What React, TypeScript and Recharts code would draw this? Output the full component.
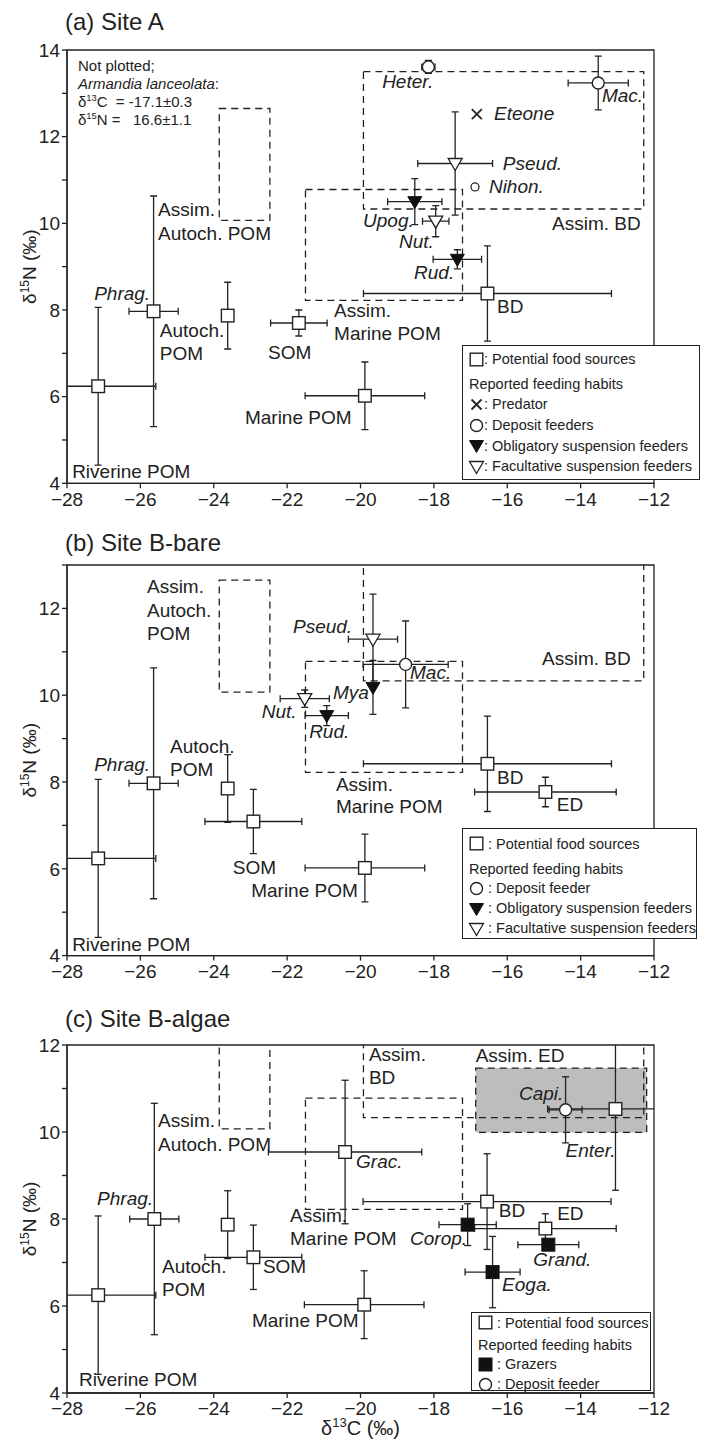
import React from "react";
import { ScatterChart, Scatter, XAxis, YAxis, ErrorBar, ReferenceArea, Legend } from "recharts";

const FONT = '"Liberation Sans", Arial, Helvetica, sans-serif';
const INK = "#222";
const PLOT_LEFT = 67;
const PLOT_W = 587;

type Pt = { name: string; x: number; y: number; ex?: number; ey?: number };
type Note = { text: string; x: number; y: number };
type Box = { x1: number; x2: number; y1: number; y2: number };

// axes
const X_TICKS = [-28, -26, -24, -22, -20, -18, -16, -14, -12];
const Y_TICKS_A = [4, 5, 6, 7, 8, 9, 10, 11, 12, 13, 14];
const Y_TICKS_B = [4, 5, 6, 7, 8, 9, 10, 11, 12, 13];
const Y_TICKS_C = [4, 5, 6, 7, 8, 9, 10, 11, 12];

// assimilated-source regions (same for all sites)
const assimBoxes: Box[] = [
  { x1: -23.85, x2: -22.47, y1: 10.07, y2: 12.65 }, // Assim. Autoch. POM
  { x1: -21.5, x2: -17.22, y1: 8.22, y2: 10.78 }, // Assim. Marine POM
  { x1: -19.92, x2: -12.28, y1: 10.33, y2: 13.5 }, // Assim. BD
];
const assimED: Box = { x1: -16.86, x2: -12.2, y1: 9.99, y2: 11.47 };

// (a) Site A
const sourcesA: Pt[] = [
  { name: "Riverine POM", x: -27.15, y: 6.24, ex: 1.57, ey: 1.82 },
  { name: "Phrag.", x: -25.64, y: 7.97, ex: 0.67, ey: 2.66 },
  { name: "Autoch. POM", x: -23.62, y: 7.87, ey: 0.77 },
  { name: "SOM", x: -21.68, y: 7.7, ex: 0.77, ey: 0.3 },
  { name: "Marine POM", x: -19.88, y: 6.02, ex: 1.63, ey: 0.78 },
  { name: "BD", x: -16.54, y: 8.38, ex: 3.38, ey: 1.1 },
];
const depositA: Pt[] = [
  { name: "Heter.", x: -18.15, y: 13.61, ex: 0.18, ey: 0.15 },
  { name: "Mac.", x: -13.52, y: 13.24, ex: 0.82, ey: 0.62 },
];
const depositSmallA: Pt[] = [{ name: "Nihon.", x: -16.88, y: 10.84 }];
const predatorA: Pt[] = [{ name: "Eteone", x: -16.83, y: 12.52 }];
const obligatoryA: Pt[] = [
  { name: "Upog.", x: -18.52, y: 10.5, ex: 0.74, ey: 0.53 },
  { name: "Rud.", x: -17.36, y: 9.17, ex: 0.66, ey: 0.22 },
];
const facultativeA: Pt[] = [
  { name: "Pseud.", x: -17.42, y: 11.38, ex: 1.02, ey: 1.19 },
  { name: "Nut.", x: -17.95, y: 10.05, ex: 0.36, ey: 0.36 },
];

// (b) Site B-bare
const sourcesB: Pt[] = [
  { name: "Riverine POM", x: -27.15, y: 6.24, ex: 1.57, ey: 1.82 },
  { name: "Phrag.", x: -25.64, y: 7.97, ex: 0.67, ey: 2.66 },
  { name: "Autoch. POM", x: -23.62, y: 7.85, ey: 0.78 },
  { name: "SOM", x: -22.92, y: 7.09, ex: 1.32, ey: 0.74 },
  { name: "Marine POM", x: -19.88, y: 6.02, ex: 1.63, ey: 0.78 },
  { name: "BD", x: -16.54, y: 8.42, ex: 3.38, ey: 1.1 },
  { name: "ED", x: -14.96, y: 7.77, ex: 1.93, ey: 0.34 },
];
const depositB: Pt[] = [{ name: "Mac.", x: -18.77, y: 10.71, ex: 1.16, ey: 1.0 }];
const obligatoryB: Pt[] = [
  { name: "Mya", x: -19.66, y: 10.18, ey: 0.62 },
  { name: "Rud.", x: -20.92, y: 9.53, ex: 0.59, ey: 0.23 },
];
const facultativeB: Pt[] = [
  { name: "Pseud.", x: -19.66, y: 11.29, ex: 0.67, ey: 1.04 },
  { name: "Nut.", x: -21.52, y: 9.92, ex: 0.67, ey: 0.2 },
];

// (c) Site B-algae
const sourcesC: Pt[] = [
  { name: "Riverine POM", x: -27.15, y: 6.25, ex: 1.57, ey: 1.82 },
  { name: "Phrag.", x: -25.62, y: 8.0, ex: 0.67, ey: 2.66 },
  { name: "Autoch. POM", x: -23.62, y: 7.87, ey: 0.78 },
  { name: "SOM", x: -22.92, y: 7.12, ex: 1.32, ey: 0.74 },
  { name: "Marine POM", x: -19.9, y: 6.03, ex: 1.63, ey: 0.78 },
  { name: "Grac.", x: -20.42, y: 9.54, ex: 2.09, ey: 1.65 },
  { name: "BD", x: -16.55, y: 8.4, ex: 3.38, ey: 1.1 },
  { name: "ED", x: -14.96, y: 7.78, ex: 1.93, ey: 0.34 },
  { name: "Enter.", x: -13.05, y: 10.53, ex: 1.85, ey: 1.87 },
];
const grazersC: Pt[] = [
  { name: "Corop.", x: -17.08, y: 7.87, ex: 0.78, ey: 0.48 },
  { name: "Grand.", x: -14.88, y: 7.41, ex: 0.83 },
  { name: "Eoga.", x: -16.4, y: 6.78, ex: 0.75, ey: 0.82 },
];
const depositC: Pt[] = [{ name: "Capi.", x: -14.41, y: 10.51, ex: 0.45, ey: 0.76 }];

// text anchors (left end of baseline, in data units); *..* italic, ^..^ superscript
const notesA: Note[] = [
  { text: "Not plotted;", x: -27.7, y: 13.52 },
  { text: "*Armandia lanceolata*:", x: -27.7, y: 13.1 },
  { text: "δ^13^C  = -17.1±0.3", x: -27.7, y: 12.68 },
  { text: "δ^15^N =   16.6±1.1", x: -27.7, y: 12.26 },
];
const labelsA: Note[] = [
  { text: "Assim.", x: -25.52, y: 10.17 },
  { text: "Autoch. POM", x: -25.52, y: 9.61 },
  { text: "*Phrag.*", x: -27.26, y: 8.23 },
  { text: "Autoch.", x: -25.47, y: 7.38 },
  { text: "POM", x: -25.47, y: 6.85 },
  { text: "SOM", x: -22.52, y: 6.87 },
  { text: "Assim.", x: -20.72, y: 7.84 },
  { text: "Marine POM", x: -20.72, y: 7.31 },
  { text: "Marine POM", x: -23.15, y: 5.37 },
  { text: "Riverine POM", x: -27.86, y: 4.12 },
  { text: "BD", x: -16.28, y: 7.93 },
  { text: "*Heter.*", x: -19.41, y: 13.12 },
  { text: "*Mac.*", x: -13.42, y: 12.8 },
  { text: "*Eteone*", x: -16.36, y: 12.38 },
  { text: "*Pseud.*", x: -16.12, y: 11.23 },
  { text: "*Nihon.*", x: -16.5, y: 10.7 },
  { text: "*Upog.*", x: -19.93, y: 9.92 },
  { text: "*Nut.*", x: -18.95, y: 9.43 },
  { text: "*Rud.*", x: -18.54, y: 8.72 },
  { text: "Assim. BD", x: -14.78, y: 9.85 },
];
const labelsB: Note[] = [
  { text: "Assim.", x: -25.82, y: 12.35 },
  { text: "Autoch.", x: -25.82, y: 11.8 },
  { text: "POM", x: -25.82, y: 11.27 },
  { text: "*Pseud.*", x: -21.84, y: 11.43 },
  { text: "*Nut.*", x: -22.69, y: 9.47 },
  { text: "*Mya*", x: -20.75, y: 9.91 },
  { text: "*Rud.*", x: -21.4, y: 9.01 },
  { text: "*Mac.*", x: -18.65, y: 10.37 },
  { text: "Assim. BD", x: -15.05, y: 10.7 },
  { text: "Autoch.", x: -25.19, y: 8.67 },
  { text: "POM", x: -25.19, y: 8.14 },
  { text: "*Phrag.*", x: -27.26, y: 8.25 },
  { text: "SOM", x: -23.48, y: 5.88 },
  { text: "Marine POM", x: -22.98, y: 5.35 },
  { text: "Assim.", x: -20.67, y: 7.79 },
  { text: "Marine POM", x: -20.67, y: 7.29 },
  { text: "BD", x: -16.28, y: 7.95 },
  { text: "ED", x: -14.65, y: 7.33 },
  { text: "Riverine POM", x: -27.86, y: 4.11 },
];
const labelsC: Note[] = [
  { text: "Assim.", x: -25.52, y: 10.12 },
  { text: "Autoch. POM", x: -25.52, y: 9.57 },
  { text: "*Phrag.*", x: -27.18, y: 8.33 },
  { text: "Autoch.", x: -25.41, y: 6.77 },
  { text: "POM", x: -25.41, y: 6.24 },
  { text: "SOM", x: -22.66, y: 6.76 },
  { text: "Marine POM", x: -22.96, y: 5.52 },
  { text: "Assim.", x: -21.92, y: 7.94 },
  { text: "Marine POM", x: -21.92, y: 7.41 },
  { text: "Riverine POM", x: -27.67, y: 4.15 },
  { text: "Assim.", x: -19.77, y: 11.64 },
  { text: "BD", x: -19.77, y: 11.11 },
  { text: "Assim. ED", x: -16.86, y: 11.62 },
  { text: "*Capi.*", x: -15.68, y: 10.73 },
  { text: "*Enter.*", x: -14.41, y: 9.43 },
  { text: "*Grac.*", x: -20.12, y: 9.17 },
  { text: "BD", x: -16.23, y: 8.05 },
  { text: "ED", x: -14.64, y: 7.97 },
  { text: "*Corop.*", x: -18.65, y: 7.41 },
  { text: "*Grand.*", x: -15.29, y: 6.91 },
  { text: "*Eoga.*", x: -16.14, y: 6.34 },
];

// legend rows
type MarkKind = "square" | "filledSquare" | "circle" | "smallCircle" | "triFilled" | "triOpen" | "cross";
type Row = { sym?: MarkKind; text: string };
const legendA: Row[] = [
  { sym: "square", text: ": Potential food sources" },
  { text: "Reported feeding habits" },
  { sym: "cross", text: ": Predator" },
  { sym: "circle", text: ": Deposit feeders" },
  { sym: "triFilled", text: ": Obligatory suspension feeders" },
  { sym: "triOpen", text: ": Facultative suspension feeders" },
];
const legendB: Row[] = [
  { sym: "square", text: " : Potential food sources" },
  { text: "Reported feeding habits" },
  { sym: "circle", text: " : Deposit feeder" },
  { sym: "triFilled", text: " : Obligatory suspension feeders" },
  { sym: "triOpen", text: " : Facultative suspension feeders" },
];
const legendC: Row[] = [
  { sym: "square", text: " : Potential food sources" },
  { text: "Reported feeding habits" },
  { sym: "filledSquare", text: " : Grazers" },
  { sym: "circle", text: " : Deposit feeder" },
];

const MARK: Record<MarkKind, (p: any) => React.ReactElement> = {
  square: (p) => (
    <rect x={p.cx - 6.3} y={p.cy - 6.3} width={12.6} height={12.6} fill="#fff" stroke={INK} strokeWidth={1.4} />
  ),
  filledSquare: (p) => (
    <rect x={p.cx - 6.5} y={p.cy - 6.5} width={13} height={13} fill="#111" stroke="#111" strokeWidth={1} />
  ),
  circle: (p) => <circle cx={p.cx} cy={p.cy} r={6} fill="#fff" stroke={INK} strokeWidth={1.4} />,
  smallCircle: (p) => <circle cx={p.cx} cy={p.cy} r={4} fill="#fff" stroke={INK} strokeWidth={1.3} />,
  triFilled: (p) => (
    <polygon
      points={`${p.cx - 7},${p.cy - 5} ${p.cx + 7},${p.cy - 5} ${p.cx},${p.cy + 7}`}
      fill="#111"
      stroke="#111"
      strokeWidth={1}
    />
  ),
  triOpen: (p) => (
    <polygon
      points={`${p.cx - 7},${p.cy - 5} ${p.cx + 7},${p.cy - 5} ${p.cx},${p.cy + 7}`}
      fill="#fff"
      stroke={INK}
      strokeWidth={1.3}
    />
  ),
  cross: (p) => (
    <g stroke={INK} strokeWidth={1.8}>
      <line x1={p.cx - 5} y1={p.cy - 5} x2={p.cx + 5} y2={p.cy + 5} />
      <line x1={p.cx - 5} y1={p.cy + 5} x2={p.cx + 5} y2={p.cy - 5} />
    </g>
  ),
};

function RichText({ x, y, text, size }: { x: number; y: number; text: string; size: number }) {
  const segs: { t: string; it: boolean; sup: boolean }[] = [];
  let it = false;
  let sup = false;
  let buf = "";
  for (const ch of text) {
    if (ch === "*" || ch === "^") {
      if (buf) segs.push({ t: buf, it, sup });
      buf = "";
      if (ch === "*") it = !it;
      else sup = !sup;
    } else buf += ch;
  }
  if (buf) segs.push({ t: buf, it, sup });
  let prev = false;
  const shift = size * 0.4;
  return (
    <text x={x} y={y} fontSize={size} fontFamily={FONT} fill={INK} style={{ whiteSpace: "pre" }}>
      {segs.map((s, i) => {
        const dy = s.sup && !prev ? -shift : !s.sup && prev ? shift : 0;
        prev = s.sup;
        return (
          <tspan key={i} dy={dy || undefined} fontStyle={s.it ? "italic" : "normal"} fontSize={s.sup ? size * 0.62 : size}>
            {s.t}
          </tspan>
        );
      })}
    </text>
  );
}

const labelShape = (p: any) => <RichText x={p.cx} y={p.cy} text={p.payload.text} size={19} />;
const noteShape = (p: any) => <RichText x={p.cx} y={p.cy} text={p.payload.text} size={15} />;

const fmtX = (v: number) => (v < 0 ? `\u2212${-v}` : `${v}`);
const fmtY = (v: number) => (v % 2 === 0 ? `${v}` : "");

function YTitle(props: any) {
  const vb = props.viewBox;
  const cx = vb.x + 14;
  const cy = vb.y + vb.height / 2;
  return (
    <text x={cx} y={cy} transform={`rotate(-90 ${cx} ${cy})`} textAnchor="middle" fontSize={19} fontFamily={FONT} fill={INK}>
      δ
      <tspan dy={-7} fontSize={12}>
        15
      </tspan>
      <tspan dy={7}>N (‰)</tspan>
    </text>
  );
}
function XTitle(props: any) {
  const vb = props.viewBox;
  return (
    <text x={vb.x + vb.width / 2} y={vb.y + 42} textAnchor="middle" fontSize={20} fontFamily={FONT} fill={INK}>
      δ
      <tspan dy={-8} fontSize={13}>
        13
      </tspan>
      <tspan dy={8}>C (‰)</tspan>
    </text>
  );
}

function LegendBox({ rows, w, h, padTop, rowH, gap }: { rows: Row[]; w: number; h: number; padTop: number; rowH: number; gap: number }) {
  return (
    <div
      style={{
        width: w,
        height: h,
        boxSizing: "border-box",
        border: `1.4px solid ${INK}`,
        background: "#fff",
        paddingTop: padTop,
        paddingLeft: 6,
        fontFamily: FONT,
        fontSize: 14.5,
        color: INK,
      }}
    >
      {rows.map((r, i) => (
        <div
          key={i}
          style={{ height: rowH, display: "flex", alignItems: "center", whiteSpace: "pre", marginBottom: i === 0 ? gap : 0 }}
        >
          {r.sym && (
            <svg width={15} height={15} style={{ overflow: "visible" }}>
              {MARK[r.sym]({ cx: 7.5, cy: 7.5 })}
            </svg>
          )}
          <span>{r.text}</span>
        </div>
      ))}
    </div>
  );
}

type Series = { data: Pt[]; mark: MarkKind };
type PanelProps = {
  id: string;
  top: number;
  height: number;
  marginTop: number;
  xAxisHeight: number;
  yMax: number;
  unit: number;
  yTicks: number[];
  title: string;
  titleBase: number;
  series: Series[];
  shaded?: Box;
  labels: Note[];
  notes?: Note[];
  legend: Row[];
  legendPos: { left: number; top: number; w: number; h: number; padTop: number; rowH: number; gap: number };
  xTitle?: boolean;
};

function Panel(p: PanelProps) {
  const plotH = (p.yMax - 4) * p.unit;
  const bottom = p.height - p.marginTop - plotH - p.xAxisHeight;
  const lp = p.legendPos;
  const clipId = `${p.id}-clip`;
  return (
    <div id={p.id} style={{ position: "absolute", left: 0, top: p.top, width: 711, height: p.height }}>
      {/* keep error bars inside the plot frame, as in the original figure */}
      <svg width={0} height={0} style={{ position: "absolute" }}>
        <defs>
          <clipPath id={clipId}>
            <rect x={PLOT_LEFT} y={p.marginTop} width={PLOT_W} height={plotH} />
          </clipPath>
        </defs>
      </svg>
      <style>{`#${p.id} .recharts-scatter, #${p.id} .recharts-errorBars { clip-path: url(#${clipId}); }`}</style>
      <div
        style={{
          position: "absolute",
          left: 65,
          top: p.titleBase - 20,
          fontSize: 24,
          lineHeight: "24px",
          fontFamily: FONT,
          color: INK,
          whiteSpace: "nowrap",
        }}
      >
        {p.title}
      </div>
      <ScatterChart width={711} height={p.height} margin={{ top: p.marginTop, right: 711 - PLOT_LEFT - PLOT_W, bottom, left: 22 }}>
        <XAxis
          type="number"
          dataKey="x"
          domain={[-28, -12]}
          ticks={X_TICKS}
          interval={0}
          allowDataOverflow
          tickFormatter={fmtX}
          tick={{ fontSize: 19, fill: INK, fontFamily: FONT }}
          tickSize={5}
          tickMargin={4}
          stroke={INK}
          strokeWidth={1.3}
          height={p.xAxisHeight}
          label={p.xTitle ? (lp2: any) => <XTitle {...lp2} /> : undefined}
        />
        <YAxis
          type="number"
          dataKey="y"
          domain={[4, p.yMax]}
          ticks={p.yTicks}
          interval={0}
          allowDataOverflow
          tickFormatter={fmtY}
          tick={{ fontSize: 19, fill: INK, fontFamily: FONT }}
          tickSize={5}
          tickMargin={2}
          stroke={INK}
          strokeWidth={1.3}
          width={PLOT_LEFT - 22}
          label={(lp2: any) => <YTitle {...lp2} />}
        />
        {p.shaded && (
          <ReferenceArea
            x1={p.shaded.x1}
            x2={p.shaded.x2}
            y1={p.shaded.y1}
            y2={p.shaded.y2}
            ifOverflow="hidden"
            fill="#bdbdbd"
            fillOpacity={1}
            stroke={INK}
            strokeWidth={1.3}
            strokeDasharray="7 5"
          />
        )}
        {assimBoxes.map((b, i) => (
          <ReferenceArea
            key={i}
            x1={b.x1}
            x2={b.x2}
            y1={b.y1}
            y2={b.y2}
            ifOverflow="hidden"
            fill="none"
            stroke={INK}
            strokeWidth={1.3}
            strokeDasharray="7 5"
          />
        ))}
        <ReferenceArea x1={-28} x2={-12} y1={4} y2={p.yMax} fill="none" stroke={INK} strokeWidth={1.3} />
        {p.series.map((s, i) => (
          <Scatter key={i} data={s.data} shape={MARK[s.mark]} isAnimationActive={false}>
            <ErrorBar dataKey="ex" direction="x" width={3.5} stroke={INK} strokeWidth={1.3} isAnimationActive={false} />
            <ErrorBar dataKey="ey" direction="y" width={3.5} stroke={INK} strokeWidth={1.3} isAnimationActive={false} />
          </Scatter>
        ))}
        <Scatter data={p.labels} shape={labelShape} isAnimationActive={false} />
        {p.notes && <Scatter data={p.notes} shape={noteShape} isAnimationActive={false} />}
        <Legend
          layout="vertical"
          align="center"
          verticalAlign="middle"
          wrapperStyle={{ left: lp.left, top: lp.top, width: lp.w, height: lp.h }}
          content={() => <LegendBox rows={p.legend} w={lp.w} h={lp.h} padTop={lp.padTop} rowH={lp.rowH} gap={lp.gap} />}
        />
      </ScatterChart>
    </div>
  );
}

export default function App() {
  return (
    <div style={{ position: "absolute", left: 0, top: 0, width: 711, height: 1440, background: "#fff" }}>
      <Panel
        id="site-a"
        top={0}
        height={520}
        marginTop={50}
        xAxisHeight={30}
        yMax={14}
        unit={43.33}
        yTicks={Y_TICKS_A}
        title="(a) Site A"
        titleBase={30}
        series={[
          { data: sourcesA, mark: "square" },
          { data: predatorA, mark: "cross" },
          { data: depositA, mark: "circle" },
          { data: depositSmallA, mark: "smallCircle" },
          { data: facultativeA, mark: "triOpen" },
          { data: obligatoryA, mark: "triFilled" },
        ]}
        labels={labelsA}
        notes={notesA}
        legend={legendA}
        legendPos={{ left: 462, top: 345, w: 238, h: 135, padTop: 3, rowH: 20.6, gap: 4 }}
      />
      <Panel
        id="site-b"
        top={520}
        height={470}
        marginTop={45}
        xAxisHeight={30}
        yMax={13}
        unit={43.4}
        yTicks={Y_TICKS_B}
        title="(b) Site B-bare"
        titleBase={31}
        series={[
          { data: sourcesB, mark: "square" },
          { data: facultativeB, mark: "triOpen" },
          { data: obligatoryB, mark: "triFilled" },
          { data: depositB, mark: "circle" },
        ]}
        labels={labelsB}
        legend={legendB}
        legendPos={{ left: 462, top: 308, w: 235, h: 111, padTop: 5, rowH: 19.8, gap: 5 }}
      />
      <Panel
        id="site-c"
        top={990}
        height={450}
        marginTop={55}
        xAxisHeight={47}
        yMax={12}
        unit={43.5}
        yTicks={Y_TICKS_C}
        title="(c) Site B-algae"
        titleBase={37}
        series={[
          { data: sourcesC, mark: "square" },
          { data: grazersC, mark: "filledSquare" },
          { data: depositC, mark: "circle" },
        ]}
        shaded={assimED}
        labels={labelsC}
        legend={legendC}
        legendPos={{ left: 471, top: 322, w: 180, h: 79, padTop: 0, rowH: 19.8, gap: 2 }}
        xTitle
      />
    </div>
  );
}
